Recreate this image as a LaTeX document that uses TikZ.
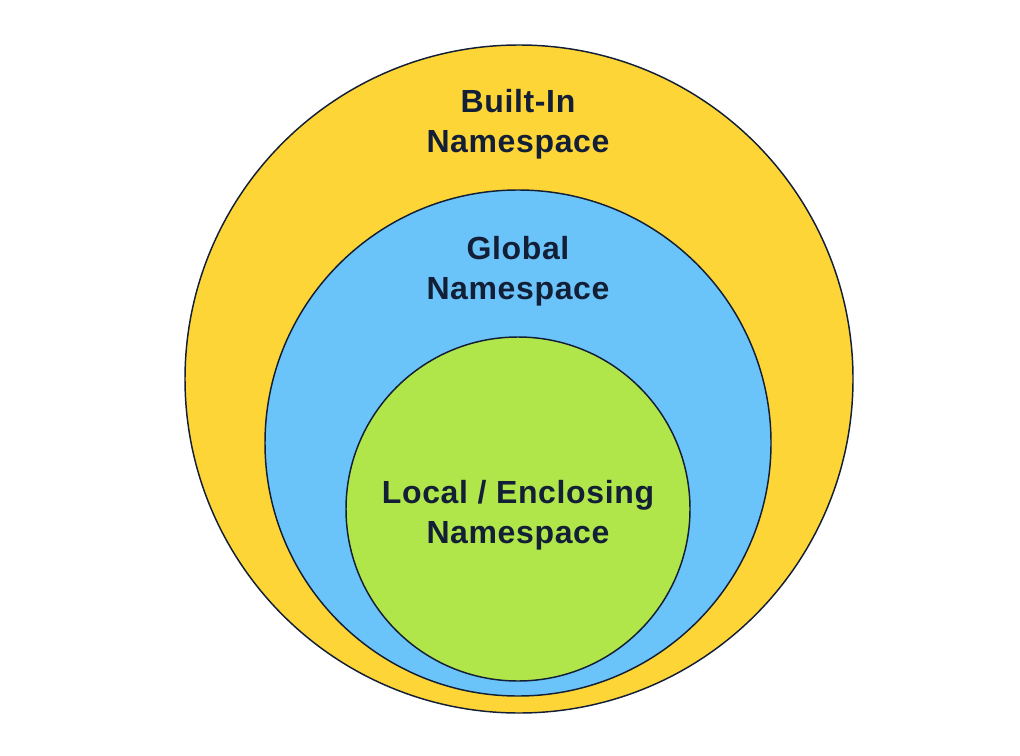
\documentclass[tikz,border=0pt]{standalone}
\usepackage{fontspec}
\setmainfont{Liberation Sans}
\usetikzlibrary{positioning}

\definecolor{ringline}{RGB}{19,31,54}
\definecolor{builtinfill}{RGB}{253,213,54}
\definecolor{globalfill}{RGB}{106,196,250}
\definecolor{localfill}{RGB}{176,230,74}
\newfontfamily\labelfont[LetterSpace=2]{Liberation Sans Bold}

\tikzset{every picture/.style={line width=1.1pt},
	ring/.style={circle, draw=ringline, inner sep=0pt, outer sep=0pt},
	scopelabel/.style={align=center, text=ringline, inner sep=0pt,
		font=\labelfont\fontsize{24}{30}\selectfont}}

\begin{document}
\begin{tikzpicture}[x=0.75pt,y=0.75pt,yscale=-1,xscale=1]
	\useasboundingbox (0,0) rectangle (1020,756);

	%Shape: Circle [id:builtin] 
	\node [ring, fill=builtinfill, minimum size=501pt] (builtin) at (519,379) {};
	%Shape: Circle [id:global] 
	\node [ring, fill=globalfill, minimum size=379.5pt] (global) at (518,443) {};
	%Shape: Circle [id:local] 
	\node [ring, fill=localfill, minimum size=258pt] (local) at (518,509) {};

	% Text Node
	\node [scopelabel] (builtintext) at (518,124) {Built-In\\Namespace};
	% Text Node
	\node [scopelabel] (globaltext) at (518,271) {Global\\Namespace};
	% Text Node
	\node [scopelabel] (localtext) at (518,515) {Local / Enclosing\\Namespace};

\end{tikzpicture}
\end{document}
